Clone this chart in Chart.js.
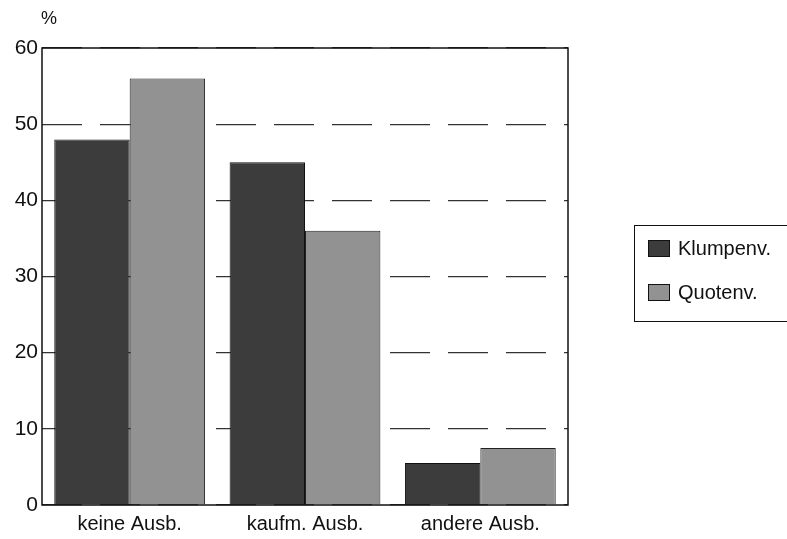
<!DOCTYPE html>
<html>
<head>
<meta charset="utf-8">
<script src="https://cdn.jsdelivr.net/npm/chart.js@4/dist/chart.umd.min.js"></script>
<style>
  body { margin: 0; background: #fff; font-family: "Liberation Sans", Arial, sans-serif; }
  #wrap { position: relative; width: 787px; height: 539px; }
  #pct { position: absolute; left: 41px; top: 8px; font-size: 18px; color: #111; }
  #legend { position: absolute; left: 634px; top: 225px; width: 160px; height: 97px;
            border: 1.5px solid #111; box-sizing: border-box; }
  .item { position: absolute; left: 13px; font-size: 20px; color: #111; display: flex; align-items: center; }
  .sw { width: 20px; height: 15px; border: 1px solid #111; margin-right: 8px; }
</style>
</head>
<body>
<div id="wrap">
  <canvas id="myChart" width="787" height="539"></canvas>
  <div id="pct">%</div>
  <div id="legend">
    <div class="item" style="top:11px"><span class="sw" style="background:#3c3c3c"></span>Klumpenv.</div>
    <div class="item" style="top:55px"><span class="sw" style="background:#929292"></span>Quotenv.</div>
  </div>
</div>
<script>
var categories = ["keine Ausb.", "kaufm. Ausb.", "andere Ausb."];
var klumpen = [48, 45, 5.5];
var quoten = [56, 36, 7.5];
var yTicks = [0, 10, 20, 30, 40, 50, 60];

// frame round the plot area
var frame = {
  id: 'frame',
  afterDatasetsDraw: function (chart) {
    var a = chart.chartArea, c = chart.ctx;
    c.save();
    c.strokeStyle = '#111';
    c.lineWidth = 1.5;
    c.strokeRect(a.left, a.top, a.right - a.left, a.bottom - a.top);
    c.restore();
  }
};

var ctx = document.getElementById("myChart").getContext('2d');
var myChart = new Chart(ctx, {
  type: 'bar',
  data: {
    labels: categories,
    datasets: [
      { label: 'Klumpenv.', data: klumpen, backgroundColor: '#3c3c3c', borderColor: '#111', borderWidth: 1 },
      { label: 'Quotenv.', data: quoten, backgroundColor: '#929292', borderColor: '#222', borderWidth: 1 }
    ]
  },
  options: {
    responsive: false,
    animation: false,
    layout: { padding: { top: 48, right: 219, left: 0, bottom: 0 } },
    plugins: { legend: { display: false }, tooltip: { enabled: false } },
    datasets: { bar: { categoryPercentage: 0.86, barPercentage: 1 } },
    scales: {
      x: {
        grid: { display: false, drawTicks: false },
        border: { display: false },
        ticks: { color: '#111', font: { family: 'Liberation Sans', size: 20 }, padding: 7 },
        afterFit: function (s) { s.height = 34; }
      },
      y: {
        min: 0, max: 60,
        afterBuildTicks: function (s) { s.ticks = yTicks.map(function (v) { return { value: v }; }); },
        grid: { color: '#333', lineWidth: 1.2, drawTicks: false },
        border: { display: false, dash: [40, 18] },
        ticks: { color: '#111', font: { family: 'Liberation Sans', size: 21 }, padding: 4 },
        afterFit: function (s) { s.width = 42; }
      }
    }
  },
  plugins: [frame]
});
</script>
</body>
</html>
